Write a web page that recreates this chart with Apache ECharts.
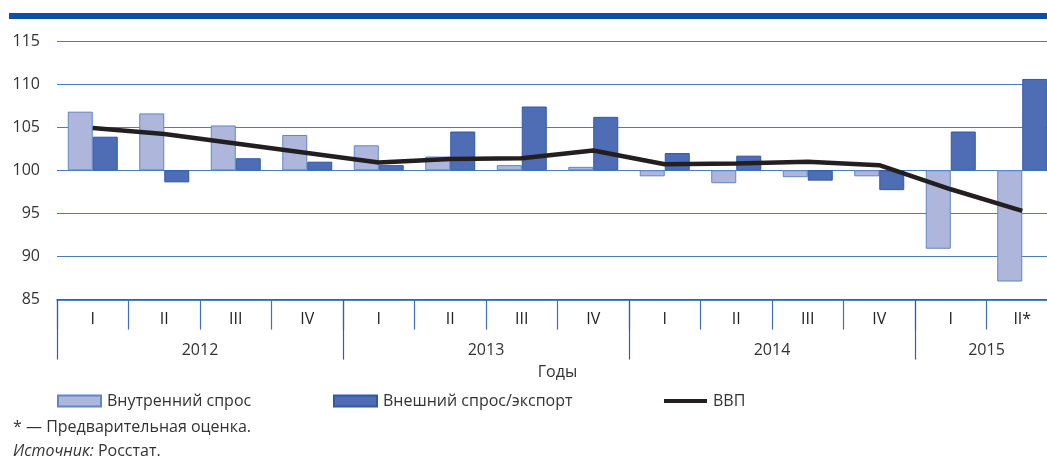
<!DOCTYPE html>
<html>
<head>
<meta charset="utf-8">
<script src="https://cdn.jsdelivr.net/npm/echarts@6/dist/echarts.min.js"></script>
<style>
html,body{margin:0;padding:0;background:#fff;}
#chart{width:1047px;height:461px;}
</style>
</head>
<body>
<div id="chart"></div>
<script>
// ---- data ----
const quarters = ['I','II','III','IV','I','II','III','IV','I','II','III','IV','I','II*'];
const yearLabels = ['', '', '2012', '', '', '', '2013', '', '', '', '2014', '', '', '2015', ''];
const yearTickIdx = [0, 4, 8, 12, 14];
const domestic = [106.8,106.6,105.2,104.1,102.9,101.6,100.6,100.4,99.3,98.5,99.2,99.3,90.9,87.1];
const external = [103.9,98.6,101.4,101.0,100.6,104.5,107.4,106.2,102.0,101.7,98.8,97.7,104.5,110.6];
const gdp = [104.9,104.2,103.1,102.0,100.9,101.3,101.4,102.3,100.7,100.8,101.0,100.6,97.8,95.3];
const baseValue = 100;
const yMin = 85, yMax = 115, yStep = 5;

const dev = arr => arr.map(v => +(v - baseValue).toFixed(2));
const FONT = '"Open Sans", "Noto Sans", sans-serif';
const legendText = {fontFamily: FONT, fontSize: 16, color: '#333', padding: [0,0,0,1]};

const chart = echarts.init(document.getElementById('chart'), null, {renderer: 'canvas'});
chart.setOption({
  animation: false,
  textStyle: {fontFamily: FONT},
  grid: {left: 57, top: 41, width: 1001, height: 258.6, containLabel: false, outerBoundsMode: 'none'},
  graphic: [{
    type: 'rect', left: 9, top: 13, shape: {width: 1038, height: 6},
    style: {fill: '#0d4fa3'}, silent: true
  }],
  title: [{
    text: '* — Предварительная оценка.', left: 8, top: 414,
    textStyle: {fontFamily: FONT, fontSize: 16, fontWeight: 'normal', color: '#333'}
  }, {
    text: '{i|Источник:} Росстат.', left: 8, top: 438,
    textStyle: {fontFamily: FONT, fontSize: 16, fontWeight: 'normal', color: '#333',
      rich: {i: {fontFamily: FONT, fontSize: 16, fontStyle: 'italic', color: '#333'}}}
  }],
  legend: [{
    data: [{name: 'Внутренний спрос', icon: 'rect'}], left: 57, top: 393, padding: 0,
    itemWidth: 43, itemHeight: 11, itemGap: 8, textStyle: legendText
  }, {
    data: [{name: 'Внешний спрос/экспорт', icon: 'rect'}], left: 333, top: 393, padding: 0,
    itemWidth: 43, itemHeight: 11, itemGap: 8, textStyle: legendText
  }, {
    data: [{name: 'ВВП', icon: 'rect', itemStyle: {color: '#231f20', borderWidth: 0}}],
    left: 664, top: 393, padding: 0,
    itemWidth: 43, itemHeight: 4, itemGap: 9, textStyle: legendText
  }],
  xAxis: [{
    type: 'category', data: quarters, position: 'bottom', boundaryGap: true,
    axisLine: {show: true, onZero: false, lineStyle: {color: '#1f5cb0', width: 1.5}},
    axisTick: {show: true, length: 30, alignWithLabel: false, lineStyle: {color: '#3f70bb', width: 1.2}},
    axisLabel: {interval: 0, margin: 12, fontFamily: FONT, fontSize: 16, color: '#222'},
    splitLine: {show: false}
  }, {
    type: 'category', data: yearLabels, position: 'bottom', boundaryGap: false, gridIndex: 0,
    axisLine: {show: false, onZero: false},
    axisTick: {show: true, length: 60, interval: (i) => yearTickIdx.includes(i),
      lineStyle: {color: '#2a62b3', width: 1.2}},
    axisLabel: {interval: 0, margin: 43, fontFamily: FONT, fontSize: 16, color: '#333'},
    name: 'Годы', nameLocation: 'middle', nameGap: 65,
    nameTextStyle: {fontFamily: FONT, fontSize: 16, color: '#333'},
    splitLine: {show: false}
  }],
  yAxis: {
    type: 'value', min: yMin - baseValue, max: yMax - baseValue, interval: yStep,
    axisLine: {show: false}, axisTick: {show: false},
    axisLabel: {margin: 17, fontFamily: FONT, fontSize: 16, color: '#333',
      formatter: v => String(v + baseValue)},
    splitLine: {show: true, lineStyle: {color: '#4a7cc2', width: 1.2}}
  },
  series: [{
    name: 'Внутренний спрос', type: 'bar', data: dev(domestic),
    barWidth: 25, barGap: '0%',
    itemStyle: {color: '#aeb7db', borderColor: '#5f86c6', borderWidth: 1}
  }, {
    name: 'Внешний спрос/экспорт', type: 'bar', data: dev(external),
    barWidth: 25, barGap: '0%',
    itemStyle: {color: '#4f6db5', borderColor: '#2f5aa8', borderWidth: 1}
  }, {
    name: 'ВВП', type: 'line', data: dev(gdp), symbol: 'none', showSymbol: false,
    lineStyle: {color: '#231f20', width: 4.5}, itemStyle: {color: '#231f20'}, z: 5
  }]
});
</script>
</body>
</html>
